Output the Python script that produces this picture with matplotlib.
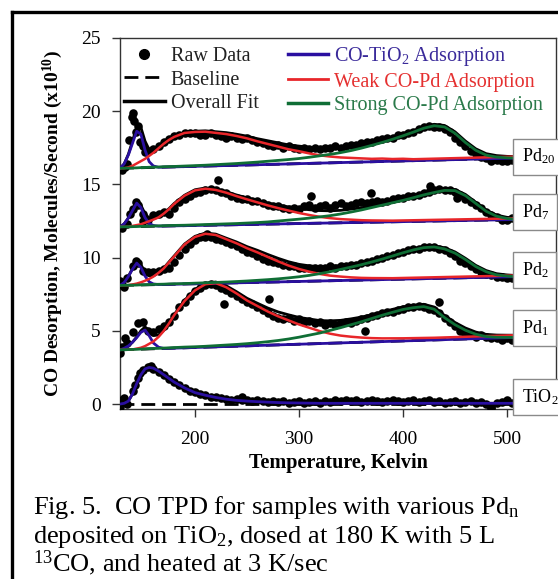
import numpy as np
import matplotlib
matplotlib.use("Agg")
import matplotlib.pyplot as plt
from matplotlib.lines import Line2D

plt.rcParams['font.family'] = ['Liberation Serif', 'DejaVu Serif']
plt.rcParams['mathtext.fontset'] = 'custom'
plt.rcParams['mathtext.rm'] = 'Liberation Serif'
plt.rcParams['mathtext.it'] = 'Liberation Serif:italic'
plt.rcParams['mathtext.bf'] = 'Liberation Serif:bold'

# ---------------------------------------------------------------
# Data (Temperature in K, signal in 1e10 molecules/s)
# ---------------------------------------------------------------
T_dots = np.arange(130, 506, 5)

dots_pd20 = [16.0, 16.4, 19.9, 19.0, 17.6, 17.3, 17.4, 17.6, 17.9, 18.1,
             18.3, 18.4, 18.5, 18.5, 18.5, 18.4, 18.4, 18.5, 18.4, 18.3,
             18.2, 18.3, 18.2, 18.1, 18.2, 18.0, 17.9, 17.8, 17.7, 17.6,
             17.7, 17.5, 17.6, 17.5, 17.4, 17.5, 17.4, 17.5, 17.4, 17.5,
             17.5, 17.6, 17.5, 17.6, 17.7, 17.7, 17.8, 17.9, 17.9, 18.0,
             18.1, 18.2, 18.2, 18.4, 18.4, 18.5, 18.6, 18.8, 18.9, 19.0,
             18.9, 18.9, 18.8, 18.6, 18.2, 17.9, 17.6, 17.3, 17.1, 16.9,
             16.8, 16.6, 16.7, 16.6, 16.6, 16.7]
dots_pd7 = [12.0, 12.3, 13.3, 13.6, 13.0, 12.6, 12.9, 13.0, 13.1, 13.0,
            13.4, 13.8, 14.0, 14.2, 14.4, 14.5, 14.6, 14.7, 14.6, 14.5,
            14.4, 14.2, 14.1, 14.0, 14.0, 13.9, 13.9, 13.7, 13.6, 13.5,
            13.5, 13.4, 13.3, 13.4, 13.3, 13.5, 13.6, 13.4, 13.5, 13.6,
            13.4, 13.6, 13.7, 13.5, 13.6, 13.7, 13.8, 13.7, 13.8, 13.9,
            13.8, 13.9, 14.0, 14.1, 14.1, 14.2, 14.2, 14.3, 14.4, 14.5,
            14.6, 14.7, 14.6, 14.6, 14.5, 14.3, 14.0, 13.8, 13.6, 13.4,
            13.1, 12.9, 12.8, 12.6, 12.6, 12.7]
dots_pd2 = [8.1, 8.6, 9.4, 9.6, 9.1, 9.0, 9.0, 9.1, 9.2, 9.3,
            9.7, 10.2, 10.6, 10.9, 11.2, 11.4, 11.4, 11.4, 11.3, 11.2,
            11.1, 10.9, 10.8, 10.6, 10.4, 10.3, 10.1, 9.9, 9.8, 9.7,
            9.6, 9.5, 9.4, 9.4, 9.3, 9.3, 9.3, 9.3, 9.3, 9.3,
            9.4, 9.3, 9.4, 9.4, 9.5, 9.5, 9.6, 9.7, 9.8, 9.9,
            10.0, 10.1, 10.2, 10.3, 10.4, 10.5, 10.6, 10.6, 10.7, 10.7,
            10.7, 10.6, 10.5, 10.3, 10.1, 9.8, 9.6, 9.4, 9.2, 9.0,
            8.9, 8.8, 8.7, 8.7, 8.6, 8.6]
dots_pd1 = [3.9, 4.2, 4.9, 5.5, 5.6, 5.0, 4.9, 5.1, 5.3, 5.6,
            6.0, 6.6, 7.0, 7.4, 7.7, 7.9, 8.1, 8.2, 8.1, 7.9,
            7.8, 7.6, 7.4, 7.2, 7.0, 6.8, 6.6, 6.4, 6.2, 6.0,
            5.9, 5.8, 5.9, 5.7, 5.8, 5.6, 5.7, 5.5, 5.6, 5.4,
            5.5, 5.4, 5.5, 5.6, 5.5, 5.7, 5.8, 5.9, 6.0, 6.1,
            6.2, 6.3, 6.3, 6.4, 6.5, 6.6, 6.6, 6.7, 6.6, 6.5,
            6.4, 6.2, 5.9, 5.6, 5.3, 5.0, 4.8, 4.7, 4.6, 4.7,
            4.6, 4.5, 4.5, 4.4, 4.5, 4.4]
dots_tio2 = [0.3, 0.0, 0.9, 1.8, 2.3, 2.5, 2.4, 2.2, 2.0, 1.7,
             1.5, 1.3, 1.1, 0.9, 0.8, 0.7, 0.6, 0.5, 0.45, 0.4,
             0.35, 0.3, 0.35, 0.25, 0.3, 0.2, 0.25, 0.2, 0.15, 0.2,
             0.15, 0.2, 0.1, 0.15, 0.2, 0.1, 0.15, 0.2, 0.1, 0.2,
             0.15, 0.25, 0.2, 0.3, 0.2, 0.25, 0.15, 0.2, 0.25, 0.2,
             0.15, 0.2, 0.25, 0.2, 0.15, 0.2, 0.25, 0.15, 0.2, 0.25,
             0.15, 0.2, 0.1, 0.15, 0.2, 0.1, 0.15, 0.2, 0.1, 0.15,
             0.0, -0.2, 0.1, 0.15, 0.3, 0.1]

# a few stray points (spikes / outliers) off the 5 K grid
extra_T_pd20 = [133, 137, 139, 141, 143, 147, 152]
extra_v_pd20 = [16.2, 18.0, 19.6, 19.3, 18.6, 17.9, 17.2]
extra_T_pd7 = [138, 143, 150, 222, 312, 369, 426, 452]
extra_v_pd7 = [13.0, 13.8, 12.5, 15.3, 14.2, 14.4, 14.9, 14.1]
extra_T_pd2 = [128, 132, 143, 212]
extra_v_pd2 = [8.4, 8.0, 9.8, 11.6]
extra_T_pd1 = [128, 133, 228, 271, 363, 435]
extra_v_pd1 = [3.5, 4.5, 6.8, 7.2, 5.0, 7.0]
extra_T_tio2 = [128, 132, 142, 147, 158, 245, 485]
extra_v_tio2 = [-0.2, 0.4, 1.3, 2.1, 2.6, 0.5, -0.3]

# fitted components: height above the (linear) baseline
T_fit = [128, 132, 136, 140, 144, 148, 152, 156, 160,
         165, 170, 175, 180,
         190, 200, 210, 220, 230, 240, 250, 260, 270, 280,
         290, 300, 310, 320, 330, 340, 350, 360, 370, 380,
         390, 400, 410, 420, 430, 440, 450, 460, 470, 480,
         490, 500, 508]

blue_pd20 = [0, 0.3, 0.9, 1.7, 2.5, 2.3, 1.2, 0.4, 0.1] + [0.0] * 37
red_pd20 = [0, 0, 0.05, 0.15, 0.3, 0.45, 0.6, 0.8, 1.0,
            1.3, 1.6, 1.85, 2.05,
            2.3, 2.35, 2.35, 2.25, 2.15, 2.0, 1.82, 1.6, 1.4, 1.2,
            1.0, 0.85, 0.68, 0.53, 0.43, 0.35, 0.3, 0.25, 0.2, 0.2,
            0.15, 0.15, 0.1, 0.1, 0.1, 0.1, 0.1, 0.1, 0.1, 0.1,
            0.1, 0.1, 0.1]
green_pd20 = [0, 0, 0, 0, 0, 0.01, 0.01, 0.02, 0.02,
              0.02, 0.03, 0.03, 0.03,
              0.04, 0.05, 0.06, 0.08, 0.1, 0.12, 0.15, 0.18, 0.22, 0.26,
              0.3, 0.35, 0.42, 0.5, 0.58, 0.68, 0.8, 0.95, 1.12, 1.3,
              1.5, 1.72, 1.95, 2.2, 2.35, 2.25, 1.8, 1.15, 0.6, 0.25,
              0.1, 0.03, 0]

blue_pd7 = [0, 0.2, 0.6, 1.1, 1.6, 1.3, 0.6, 0.2, 0.05] + [0.0] * 37
red_pd7 = [0, 0, 0, 0.05, 0.1, 0.15, 0.25, 0.35, 0.45,
           0.6, 0.85, 1.15, 1.5,
           2.05, 2.4, 2.5, 2.4, 2.2, 1.95, 1.72, 1.5, 1.28, 1.08,
           0.9, 0.72, 0.57, 0.43, 0.33, 0.25, 0.2, 0.15, 0.12, 0.1,
           0.08, 0.08, 0.08, 0.08, 0.08, 0.08, 0.08, 0.08, 0.08, 0.08,
           0.08, 0.08, 0.08]
green_pd7 = [0, 0, 0, 0, 0, 0.01, 0.01, 0.01, 0.02,
             0.02, 0.02, 0.03, 0.03,
             0.03, 0.04, 0.05, 0.06, 0.07, 0.08, 0.1, 0.12, 0.15, 0.2,
             0.25, 0.3, 0.36, 0.43, 0.5, 0.6, 0.72, 0.85, 1.0, 1.15,
             1.3, 1.45, 1.62, 1.8, 1.95, 2.08, 2.05, 1.7, 1.15, 0.6,
             0.25, 0.08, 0]

blue_pd2 = [0, 0.2, 0.6, 1.1, 1.5, 1.2, 0.6, 0.2, 0.05] + [0.0] * 37
red_pd2 = [0, 0, 0, 0.05, 0.1, 0.18, 0.28, 0.4, 0.55,
           0.8, 1.1, 1.5, 1.9,
           2.7, 3.2, 3.4, 3.3, 3.0, 2.7, 2.35, 2.05, 1.72, 1.4,
           1.1, 0.85, 0.65, 0.48, 0.35, 0.27, 0.2, 0.15, 0.12, 0.1,
           0.08, 0.08, 0.08, 0.08, 0.08, 0.08, 0.08, 0.08, 0.08, 0.08,
           0.08, 0.08, 0.08]
green_pd2 = [0, 0, 0, 0, 0, 0.01, 0.01, 0.01, 0.02,
             0.02, 0.02, 0.03, 0.03,
             0.03, 0.04, 0.05, 0.06, 0.07, 0.09, 0.11, 0.14, 0.17, 0.21,
             0.26, 0.32, 0.4, 0.5, 0.62, 0.76, 0.9, 1.05, 1.22, 1.4,
             1.6, 1.8, 1.98, 2.12, 2.15, 2.0, 1.7, 1.25, 0.75, 0.38,
             0.15, 0.05, 0]

blue_pd1 = [0, 0.1, 0.25, 0.5, 0.8, 1.15, 1.3, 0.9, 0.4, 0.1] + [0.0] * 36
red_pd1 = [0, 0, 0, 0, 0.05, 0.1, 0.2, 0.35, 0.5,
           0.8, 1.2, 1.7, 2.25,
           3.2, 3.9, 4.3, 4.35, 4.05, 3.6, 3.1, 2.7, 2.3, 1.95,
           1.65, 1.35, 1.1, 0.85, 0.65, 0.5, 0.4, 0.32, 0.26, 0.22,
           0.2, 0.18, 0.17, 0.16, 0.15, 0.15, 0.15, 0.15, 0.15, 0.15,
           0.15, 0.15, 0.15]
green_pd1 = [0, 0, 0, 0, 0, 0.01, 0.01, 0.02, 0.02,
             0.02, 0.03, 0.03, 0.04,
             0.05, 0.05, 0.06, 0.08, 0.1, 0.12, 0.15, 0.19, 0.24, 0.3,
             0.38, 0.48, 0.6, 0.72, 0.88, 1.04, 1.22, 1.4, 1.6, 1.8,
             1.98, 2.15, 2.25, 2.3, 2.1, 1.5, 1.0, 0.6, 0.3, 0.12,
             0.05, 0.02, 0]

blue_tio2 = [0, 0.05, 0.2, 0.7, 1.4, 2.0, 2.4, 2.5, 2.45,
             2.25, 2.0, 1.75, 1.5,
             1.1, 0.78, 0.6, 0.45, 0.33, 0.25, 0.2, 0.16, 0.13, 0.1,
             0.08, 0.07, 0.06] + [0.05] * 20

# baseline end points (left at 128 K, right at 508 K)
base_T = [128, 508]
base_pd20 = [16.1, 16.8]
base_pd7 = [12.1, 12.6]
base_pd2 = [8.1, 8.7]
base_pd1 = [3.7, 4.55]
base_tio2 = [0.0, 0.0]

labels = ["Pd$_{\\mathrm{20}}$", "Pd$_{\\mathrm{7}}$", "Pd$_{\\mathrm{2}}$",
          "Pd$_{\\mathrm{1}}$", "TiO$_{\\mathrm{2}}$"]
label_y = [16.9, 13.1, 9.15, 5.2, 0.5]

c_blue = "#2a0fa0"
c_red = "#e8262a"
c_green = "#0f6e35"

traces = [
    (dots_pd20, extra_T_pd20, extra_v_pd20, base_pd20, blue_pd20, red_pd20, green_pd20),
    (dots_pd7, extra_T_pd7, extra_v_pd7, base_pd7, blue_pd7, red_pd7, green_pd7),
    (dots_pd2, extra_T_pd2, extra_v_pd2, base_pd2, blue_pd2, red_pd2, green_pd2),
    (dots_pd1, extra_T_pd1, extra_v_pd1, base_pd1, blue_pd1, red_pd1, green_pd1),
    (dots_tio2, extra_T_tio2, extra_v_tio2, base_tio2, blue_tio2, None, None),
]

# ---------------------------------------------------------------
# Figure
# ---------------------------------------------------------------
fig = plt.figure(figsize=(5.58, 5.79), dpi=100)
ax = fig.add_axes([0.215, 0.2936, 0.7814, 0.6408])

T_fit = np.array(T_fit)
for (dots, ex_T, ex_v, base, blue, red, green), lab, ly in zip(traces, labels, label_y):
    bl = np.interp(T_fit, base_T, base)
    fit = bl + np.array(blue)
    if red is not None:
        fit = fit + np.array(red) + np.array(green)

    ax.plot(base_T, base, color="black", lw=2, dashes=[5, 2.5], zorder=1)
    ax.plot(T_fit, fit, color="black", lw=2, zorder=2)
    ax.scatter(T_dots, dots, s=38, color="black", lw=0, zorder=3)
    ax.scatter(ex_T, ex_v, s=38, color="black", lw=0, zorder=3)
    ax.plot(T_fit, bl + np.array(blue), color=c_blue, lw=2, zorder=4)
    if red is not None:
        ax.plot(T_fit, bl + np.array(red), color=c_red, lw=1.8, zorder=5)
        ax.plot(T_fit, bl + np.array(green), color=c_green, lw=2, zorder=6)

    ax.text(514, ly, lab, fontsize=13, ha="left", va="center", clip_on=False,
            zorder=7,
            bbox=dict(boxstyle="square,pad=0.45", fc="white", ec="#8a8a8a", lw=1))

ax.set_xlim(127.9, 547.1)
ax.set_ylim(-0.34, 25.0)
ax.set_xticks([200, 300, 400, 500])
ax.set_yticks([0, 5, 10, 15, 20, 25])
ax.tick_params(direction="out", length=6, width=1, labelsize=14,
               top=False, right=False, color="#333333")
ax.tick_params(axis="x", pad=10)
ax.tick_params(axis="y", pad=8)
for sp in ax.spines.values():
    sp.set_linewidth(1)
    sp.set_color("#333333")

ax.set_xlabel("Temperature, Kelvin", fontsize=14.5, fontweight="bold")
ax.xaxis.set_label_coords(0.5, -0.118)
ax.set_ylabel("CO Desorption, Molecules/Second (x10$^{\\mathbf{10}}$)",
              fontsize=14, fontweight="bold")
ax.yaxis.set_label_coords(-0.125, 0.5)

# legend
handles = [
    Line2D([], [], marker="o", ls="none", color="black", ms=7),
    Line2D([], [], color="black", lw=2, dashes=[5, 2.5]),
    Line2D([], [], color="black", lw=2.5),
    Line2D([], [], color=c_blue, lw=2.5),
    Line2D([], [], color=c_red, lw=2),
    Line2D([], [], color=c_green, lw=2.5),
]
names = ["Raw Data", "Baseline", "Overall Fit",
         "CO-TiO$_{\\mathrm{2}}$ Adsorption", "Weak CO-Pd Adsorption",
         "Strong CO-Pd Adsorption"]
ax.legend(handles, names, ncol=2, loc="upper left", bbox_to_anchor=(0.01, 0.98),
          frameon=False, fontsize=14.5, handlelength=2.0, handletextpad=0.3,
          labelspacing=0.2, columnspacing=1.45, borderpad=0, borderaxespad=0,
          labelcolor=["#222222", "#222222", "#222222", "#3a2a9a", "#e53030", "#2a7a4a"])

# outer frame of the scanned figure
fig.add_artist(Line2D([0.021, 0.021], [0.0, 0.979], transform=fig.transFigure,
                      color="black", lw=2.4))
fig.add_artist(Line2D([0.021, 1.0], [0.979, 0.979], transform=fig.transFigure,
                      color="black", lw=2.4))

# caption
fig.text(0.059, 1 - 514 / 579, "Fig. 5.  CO TPD for samples with various Pd$_{\\mathrm{n}}$",
         fontsize=19, va="baseline")
fig.text(0.059, 1 - 543 / 579, "deposited on TiO$_{\\mathrm{2}}$, dosed at 180 K with 5 L",
         fontsize=19, va="baseline")
fig.text(0.059, 1 - 571 / 579, "$^{\\mathrm{13}}$CO, and heated at 3 K/sec",
         fontsize=19, va="baseline")

fig.savefig("out.png", dpi=100)
